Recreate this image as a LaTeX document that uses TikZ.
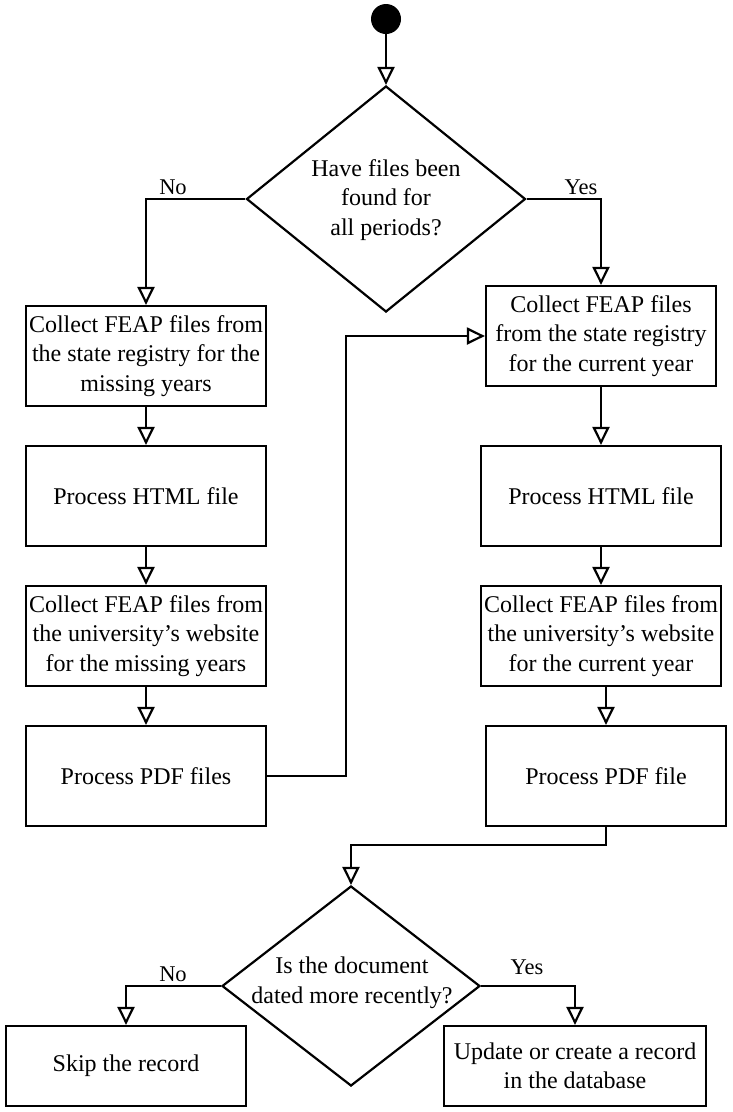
\documentclass[tikz,border=0pt]{standalone}
\usepackage{fontspec}
\setmainfont{Liberation Serif}
\usetikzlibrary{shapes.geometric,arrows.meta}
\begin{document}
\begin{tikzpicture}[x=1pt,y=-1pt,
  every node/.style={font=\fontsize{24}{29.5}\selectfont},
  box/.style={draw,line width=2.2pt,rectangle,inner sep=0pt,align=center,minimum width=240pt,minimum height=100pt},
  dia/.style={draw,line width=2.2pt,diamond,inner sep=0pt},
  txt/.style={align=center,inner sep=0pt},
  lbl/.style={inner sep=0pt,font=\fontsize{22.5}{26}\selectfont},
  startc/.style={circle,fill=black,inner sep=0pt,minimum size=30pt},
  arr/.style={line width=2.2pt,-{Triangle[open,length=18pt,width=17pt,line width=2.2pt]}}
]
\useasboundingbox (0,0) rectangle (732,1112);

\node[startc] (s) at (386,19) {};
\node[dia,minimum width=279pt,minimum height=226pt] (d1) at (386,199) {};
\node[txt] (d1t) at (386,200) {Have files been\\found for\\all periods?};

\node[box] (L1) at (146,356) {Collect FEAP files from\\the state registry for the\\missing years};
\node[box] (L2) at (146,496) {Process HTML file};
\node[box] (L3) at (146,636) {Collect FEAP files from\\the university’s website\\for the missing years};
\node[box] (L4) at (146,776) {Process PDF files};

\node[box,minimum width=230pt] (R1) at (601,336) {Collect FEAP files\\from the state registry\\for the current year};
\node[box] (R2) at (601,496) {Process HTML file};
\node[box] (R3) at (601,636) {Collect FEAP files from\\the university’s website\\for the current year};
\node[box] (R4) at (606,776) {Process PDF file};

\node[dia,minimum width=258pt,minimum height=200pt] (d2) at (351,986) {};
\node[txt] (d2t) at (352,983) {Is the document\\dated more recently?};

\node[box,minimum height=80pt] (skip) at (126,1066) {Skip the record};
\node[box,minimum width=262pt,minimum height=80pt] (upd) at (575,1066) {Update or create a record\\in the database};

\draw[arr] (s.south) -- (d1.north);
\draw[arr] (d1.west) -| (L1.north);
\node[lbl] (no1) at (173,187) {No};
\draw[arr] (d1.east) -| (R1.north);
\node[lbl] (yes1) at (581,187) {Yes};

\draw[arr] (L1) -- (L2);
\draw[arr] (L2) -- (L3);
\draw[arr] (L3) -- (L4);

\draw[arr] (R1) -- (R2);
\draw[arr] (R2) -- (R3);
\draw[arr] (R3.south -| R4.north) -- (R4.north);

\coordinate (c1) at (346,776);
\draw[arr] (L4.east) -- (c1) |- (R1.west);

\coordinate (c2) at (606,845);
\draw[arr] (R4.south) -- (c2) -| (d2.north);

\draw[arr] (d2.west) -| (skip.north);
\node[lbl] (no2) at (173,974) {No};
\draw[arr] (d2.east) -| (upd.north);
\node[lbl] (yes2) at (527,967) {Yes};
\end{tikzpicture}
\end{document}
